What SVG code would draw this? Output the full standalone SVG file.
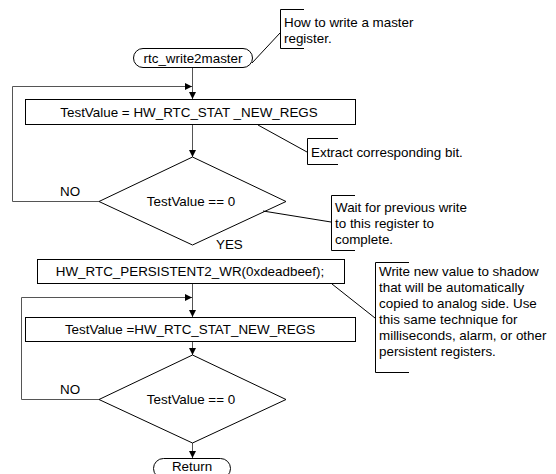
<svg xmlns="http://www.w3.org/2000/svg" width="556" height="474" viewBox="0 0 556 474">
<style>
text{font-family:"Liberation Sans",Arial,sans-serif;font-size:13.4px;fill:#000}
.c{text-anchor:middle}
.shape{fill:#fff;stroke:#000;stroke-width:1}
.conn{fill:none;stroke:#555;stroke-width:1}
.call{fill:none;stroke:#000;stroke-width:1}
</style>
<defs>
<marker id="ah" viewBox="0 0 8 8" refX="8" refY="4" markerWidth="7" markerHeight="7" markerUnits="userSpaceOnUse" orient="auto">
<path d="M0,0 L8,4 L0,8 z" fill="#000"/>
</marker>
</defs>
<rect width="556" height="474" fill="#fff"/>
<g id="connectors">
<path class="conn" d="M192.5,67 V99" marker-end="url(#ah)"/>
<path class="conn" d="M99,201.5 H12.5 V86.5 H192" marker-end="url(#ah)"/>
<path class="conn" d="M192.5,125 V157" marker-end="url(#ah)"/>
<path class="conn" d="M192.5,284 V317" marker-end="url(#ah)"/>
<path class="conn" d="M99,399.5 H21.5 V297.5 H192" marker-end="url(#ah)"/>
<path class="conn" d="M192.5,341 V355" marker-end="url(#ah)"/>
<path class="conn" d="M192.5,443 V458" marker-end="url(#ah)"/>
<text x="60" y="196">NO</text>
<text x="216" y="249">YES</text>
<text x="60" y="394">NO</text>
</g>
<g id="start">
<rect class="shape" x="133.5" y="48.5" width="119" height="19" rx="9.5"/>
<text class="c" x="193" y="63">rtc_write2master</text>
</g>
<g id="box1">
<rect class="shape" x="25.5" y="99.5" width="330" height="25"/>
<text class="c" x="189" y="117">TestValue = HW_RTC_STAT _NEW_REGS</text>
</g>
<g id="decision1">
<polygon class="shape" points="192.5,157 286,201.5 192.5,245 99,201.5"/>
<text class="c" x="191" y="206">TestValue == 0</text>
</g>
<g id="box2">
<rect class="shape" x="37.5" y="259.5" width="307" height="24"/>
<text class="c" x="190" y="276">HW_RTC_PERSISTENT2_WR(0xdeadbeef);</text>
</g>
<g id="box3">
<rect class="shape" x="25.5" y="317.5" width="330" height="24"/>
<text class="c" x="190" y="334">TestValue =HW_RTC_STAT_NEW_REGS</text>
</g>
<g id="decision2">
<polygon class="shape" points="192.5,355 286,399.5 192.5,443 99,399.5"/>
<text class="c" x="191" y="404">TestValue == 0</text>
</g>
<g id="end">
<rect class="shape" x="153.5" y="458.5" width="77" height="20" rx="10"/>
<text class="c" x="192" y="471">Return</text>
</g>
<g id="note1">
<path class="call" d="M252,63 L280,33"/>
<path class="call" d="M304,9.5 H280.5 V48.5 H304"/>
<text x="284" y="27">How to write a master</text>
<text x="284" y="43">register.</text>
</g>
<g id="note2">
<path class="call" d="M258,125 L307,152"/>
<path class="call" d="M338,138.5 H307.5 V164.5 H338"/>
<text x="311" y="157">Extract corresponding bit.</text>
</g>
<g id="note3">
<path class="call" d="M263,211 L331,222"/>
<path class="call" d="M355,195.5 H331.5 V250.5 H355"/>
<text x="335" y="212">Wait for previous write</text>
<text x="335" y="228">to this register to</text>
<text x="335" y="244">complete.</text>
</g>
<g id="note4">
<path class="call" d="M332,284 L375,318"/>
<path class="call" d="M409,262.5 H375.5 V372.5 H409"/>
<text x="379" y="276">Write new value to shadow</text>
<text x="379" y="292">that will be automatically</text>
<text x="379" y="308">copied to analog side. Use</text>
<text x="379" y="324">this same technique for</text>
<text x="379" y="340">milliseconds, alarm, or other</text>
<text x="379" y="356">persistent registers.</text>
</g>
</svg>
